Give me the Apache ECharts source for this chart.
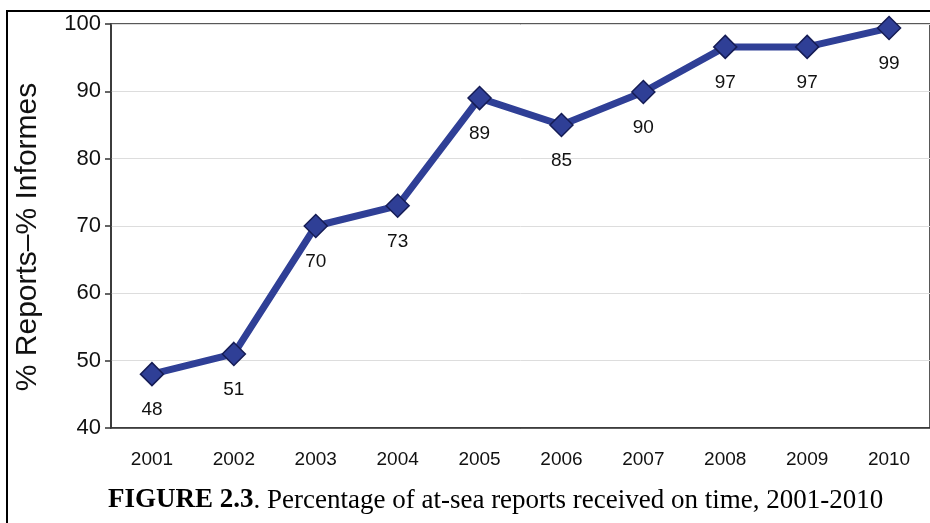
<!DOCTYPE html>
<html><head><meta charset="utf-8">
<script src="https://cdn.jsdelivr.net/npm/echarts@6/dist/echarts.min.js"></script>
<style>html,body{margin:0;padding:0;background:#fff}#c{width:930px;height:523px}</style>
</head><body><div id="c"></div>
<script>
const years = ['2001','2002','2003','2004','2005','2006','2007','2008','2009','2010'];
const pct = [48, 51, 70, 73, 89, 85, 89.9, 96.6, 96.6, 99.4];
const labels = ['48','51','70','73','89','85','90','97','97','99'];
const yTicks = [40, 50, 60, 70, 80, 90, 100];

const chart = echarts.init(document.getElementById('c'));
chart.setOption({
  animation: false,
  backgroundColor: '#fff',
  grid: {left: 111, right: -1, top: 24, bottom: 95, show: true, borderColor: '#222', borderWidth: 1.5},
  xAxis: {
    type: 'category', data: years, boundaryGap: true,
    axisLine: {lineStyle: {color: '#333', width: 1.5}},
    axisTick: {alignWithLabel: true, length: 7, lineStyle: {color: '#333', width: 1.5}},
    axisLabel: {color: '#111', fontSize: 19, fontFamily: 'Liberation Sans, Arial', margin: 22}
  },
  yAxis: {
    type: 'value', min: yTicks[0], max: yTicks[yTicks.length-1], interval: 10,
    name: '% Reports\u2013% Informes', nameLocation: 'middle', nameGap: 68,
    nameTextStyle: {fontSize: 30, color: '#111', fontFamily: 'Liberation Sans, Arial', padding: [0, 22, 0, 0]},
    axisLine: {show: true, lineStyle: {color: '#333', width: 1.5}},
    axisTick: {show: true, length: 6, lineStyle: {color: '#333', width: 1.5}},
    splitLine: {lineStyle: {color: '#ddd', width: 1}},
    axisLabel: {color: '#111', fontSize: 22, fontFamily: 'Liberation Sans, Arial', margin: 10}
  },
  series: [{
    type: 'line', data: pct,
    lineStyle: {color: '#2F3F96', width: 7},
    symbol: 'diamond', symbolSize: 23,
    itemStyle: {color: '#2F3F96', borderColor: '#151C55', borderWidth: 1.5},
    label: {show: true, position: 'bottom', distance: 14, fontSize: 19, color: '#111',
      fontFamily: 'Liberation Sans, Arial',
      formatter: p => labels[p.dataIndex]}
  }],
  graphic: [
    {type: 'rect', shape: {x: 7, y: 11, width: 940, height: 530}, style: {fill: 'none', stroke: '#000', lineWidth: 2}, z: 100},
    {type: 'text', left: 108, top: 487, style: {
      rich: {b: {fontWeight: 'bold', fontSize: 27, fontFamily: 'Liberation Serif, Times New Roman', fill: '#000'},
             n: {fontSize: 27, fontFamily: 'Liberation Serif, Times New Roman', fill: '#000'}},
      text: '{b|FIGURE 2.3}{n|. Percentage of at-sea reports received on time, 2001-2010}'
    }}
  ]
});
</script></body></html>
